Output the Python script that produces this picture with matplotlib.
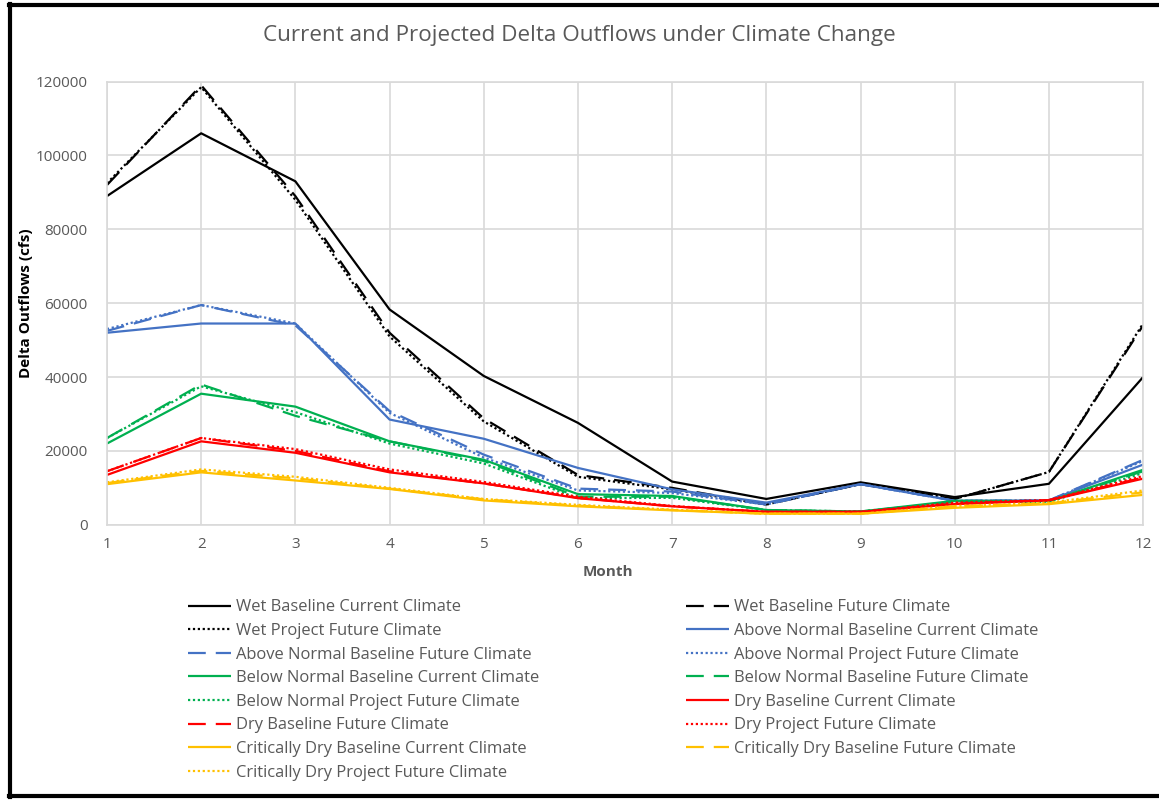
import matplotlib
matplotlib.use("Agg")
import matplotlib.pyplot as plt
from matplotlib.lines import Line2D

months = list(range(1, 13))

# wet
wet_base_cur = [89000, 106000, 93000, 58300, 40300, 27600, 11700, 7000, 11500, 7500, 11100, 40000]
wet_base_fut = [92000, 119000, 89000, 52000, 28800, 13500, 10000, 5500, 11000, 7000, 14300, 54000]
wet_proj_fut = [92500, 118500, 88000, 51000, 28000, 13000, 9600, 5500, 11000, 7000, 14300, 54500]
# above normal
an_base_cur = [52000, 54500, 54500, 28500, 23300, 15400, 9600, 6000, 11000, 6500, 6600, 16300]
an_base_fut = [52500, 59500, 54000, 30800, 19000, 9800, 9000, 5500, 11000, 6500, 6600, 17600]
an_proj_fut = [53000, 59500, 54500, 30300, 18200, 9300, 8600, 5500, 11000, 6500, 6600, 17300]
# below normal
bn_base_cur = [22000, 35500, 32000, 22600, 17600, 8300, 7800, 4000, 3600, 6500, 6400, 14900]
bn_base_fut = [23500, 38000, 29500, 22600, 17300, 7600, 7600, 4000, 3600, 6200, 6400, 14500]
bn_proj_fut = [23500, 37500, 30500, 22000, 16600, 7200, 7300, 4000, 3600, 6200, 6200, 14000]
# dry
dry_base_cur = [13500, 22600, 19500, 14200, 11200, 7200, 5000, 3500, 3500, 5600, 6600, 12500]
dry_base_fut = [14500, 23500, 20000, 14500, 11200, 7300, 5000, 3500, 3500, 5700, 6700, 12800]
dry_proj_fut = [14500, 23500, 20500, 15000, 11600, 7600, 5100, 3500, 3500, 6000, 6700, 13200]
# critically dry
cd_base_cur = [11000, 14200, 12000, 9700, 6600, 5000, 3900, 3000, 3000, 4600, 5600, 8100]
cd_base_fut = [11300, 14600, 12600, 9800, 6900, 5200, 4000, 3000, 3000, 5000, 5800, 8800]
cd_proj_fut = [11500, 15000, 13000, 10000, 7000, 5400, 4100, 3000, 3000, 5100, 6000, 9300]

labels = [
    "Wet Baseline Current Climate", "Wet Baseline Future Climate",
    "Wet Project Future Climate", "Above Normal Baseline Current Climate",
    "Above Normal Baseline Future Climate", "Above Normal Project Future Climate",
    "Below Normal Baseline Current Climate", "Below Normal Baseline Future Climate",
    "Below Normal Project Future Climate", "Dry Baseline Current Climate",
    "Dry Baseline Future Climate", "Dry Project Future Climate",
    "Critically Dry Baseline Current Climate", "Critically Dry Baseline Future Climate",
    "Critically Dry Project Future Climate",
]
series = [
    wet_base_cur, wet_base_fut, wet_proj_fut,
    an_base_cur, an_base_fut, an_proj_fut,
    bn_base_cur, bn_base_fut, bn_proj_fut,
    dry_base_cur, dry_base_fut, dry_proj_fut,
    cd_base_cur, cd_base_fut, cd_proj_fut,
]
colors = ["#000000", "#4472C4", "#00B050", "#FF0000", "#FFC000"]
styles = [(0, ()), (0, (8, 4.5)), (0, (1, 1.2))]

FONT = ["Open Sans", "DejaVu Sans"]
plt.rcParams["font.family"] = FONT
GRAY = "#595959"

fig = plt.figure(figsize=(11.59, 8), dpi=100)
ax = fig.add_axes([0.0923, 0.344, 0.894, 0.554])

handles = []
for i, (lab, ys) in enumerate(zip(labels, series)):
    h, = ax.plot(months, ys, color=colors[i // 3], linestyle=styles[i % 3],
                 linewidth=1.6, label=lab)
    handles.append(h)

ax.set_xlim(1, 12)
ax.set_ylim(0, 120000)
ax.set_xticks(months)
ax.set_yticks(range(0, 120001, 20000))
ax.grid(True, color="#d9d9d9", linewidth=1.2)
ax.set_axisbelow(True)
for s in ax.spines.values():
    s.set_color("#d9d9d9")
    s.set_linewidth(1.2)
ax.tick_params(length=0, labelsize=11, labelcolor=GRAY)
ax.tick_params(axis="y", pad=14)
ax.tick_params(axis="x", pad=9)

fig.suptitle("Current and Projected Delta Outflows under Climate Change",
             fontsize=16.2, color=GRAY, x=0.5, y=0.969, va="top")
ax.set_xlabel("Month", fontsize=11, fontweight="bold", color=GRAY)
ax.xaxis.set_label_coords(0.4836, -0.09)
ax.set_ylabel("Delta Outflows (cfs)", fontsize=11, fontweight="bold",
              color="black")
ax.yaxis.set_label_coords(-0.071, 0.5)

# legend fills row by row like Excel
order = handles[0::2] + handles[1::2]
leg = fig.legend(order, [h.get_label() for h in order], ncol=2,
                 loc="upper left", bbox_to_anchor=(0.155, 0.261),
                 frameon=False, fontsize=11.9, handlelength=2.6,
                 handletextpad=0.3, columnspacing=8.9, labelspacing=0.46,
                 borderpad=0)
for t in leg.get_texts():
    t.set_color(GRAY)

# chart frame
W, H = 1159, 800
for xs, ys in [([9, W], [795, 795]), ([10, 10], [3, 796]), ([9, W], [4, 4])]:
    fig.add_artist(Line2D([x / W for x in xs], [y / H for y in ys],
                          transform=fig.transFigure, color="black", linewidth=3))

fig.savefig("out.png", dpi=100)
